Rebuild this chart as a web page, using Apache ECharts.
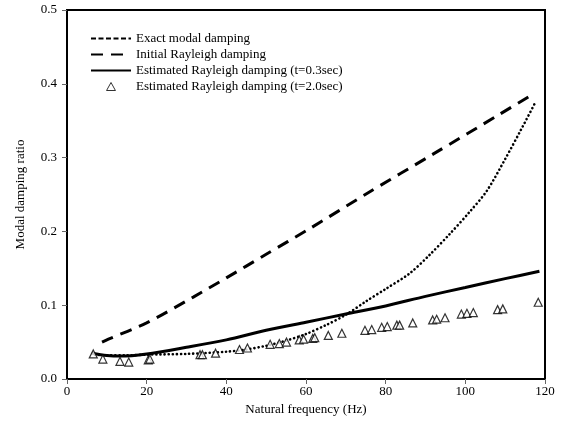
<!DOCTYPE html>
<html>
<head>
	<meta charset="utf-8">
	<title>modal damping</title>
	<script src="https://cdn.jsdelivr.net/npm/echarts@6/dist/echarts.min.js"></script>
	<style>
		html, body { margin: 0; padding: 0; background: #fff; }
		#DIV1 { width: 579px; height: 429px; }
	</style>
</head>
<body>
	<div id="DIV1"></div>
	<script type="text/javascript">

		// values
		const xTicks = [0, 20, 40, 60, 80, 100, 120];
		const yTicks = [0.0, 0.1, 0.2, 0.3, 0.4, 0.5];

		const exactFreq  = [7, 10, 15, 20, 30, 40, 45, 50, 55, 60, 65, 70, 75, 80, 86, 91, 96, 101, 105.4, 110, 114, 117.5];
		const exactRatio = [0.033, 0.032, 0.032, 0.033, 0.034, 0.037, 0.040, 0.045, 0.052, 0.061, 0.073, 0.087, 0.105, 0.122, 0.143, 0.168, 0.196, 0.226, 0.255, 0.298, 0.338, 0.374];

		const initFreq  = [8.8, 10.4, 20, 31.7, 40, 50, 61, 75.2, 92, 108.7, 117];
		const initRatio = [0.050, 0.054, 0.076, 0.111, 0.137, 0.169, 0.204, 0.251, 0.305, 0.359, 0.386];

		const est03Freq  = [6.2, 10, 13.3, 20, 30, 40, 50, 60, 70, 80, 90, 100, 110, 118.6];
		const est03Ratio = [0.035, 0.032, 0.031, 0.034, 0.043, 0.053, 0.066, 0.077, 0.088, 0.099, 0.112, 0.124, 0.136, 0.146];

		const est20Freq  = [6.6, 9.0, 13.3, 15.5, 20.4, 20.8, 33.4, 34.0, 37.3, 43.3, 45.3, 51.0, 53.3, 55.1, 58.3, 59.4, 61.7, 62.2, 65.6, 69.0, 74.8, 76.5, 79.0, 80.4, 82.8, 83.5, 86.8, 91.8, 92.8, 94.9, 99.0, 100.4, 102.0, 108.1, 109.4, 118.3];
		const est20Ratio = [0.034, 0.027, 0.024, 0.023, 0.026, 0.027, 0.033, 0.033, 0.035, 0.040, 0.042, 0.047, 0.048, 0.050, 0.053, 0.054, 0.055, 0.056, 0.059, 0.062, 0.066, 0.067, 0.070, 0.071, 0.073, 0.073, 0.076, 0.080, 0.081, 0.083, 0.088, 0.089, 0.090, 0.094, 0.095, 0.104];

		const names = [
			"Exact modal damping",
			"Initial Rayleigh damping",
			"Estimated Rayleigh damping (t=0.3sec)",
			"Estimated Rayleigh damping (t=2.0sec)"
		];

		const zip = (xs, ys) => xs.map((x, i) => [x, ys[i]]);
		const FONT = "Liberation Serif";
		const TRI = "path://M5,0 L10,9 L0,9 Z";

		const chart = echarts.init(document.getElementById("DIV1"));

		const option = {
			animation: false,
			backgroundColor: "#fff",
			textStyle: { fontFamily: FONT, color: "#000" },
			grid: {
				left: 67, right: 34, top: 10, bottom: 50,
				show: true, borderColor: "#000", borderWidth: 2
			},
			legend: {
				orient: "vertical",
				left: 85, top: 27,
				itemWidth: 40, itemHeight: 8, itemGap: 3, itemTextGap: 3,
				textStyle: { fontFamily: FONT, fontSize: 13, color: "#000" },
				data: [
					{ name: names[0], itemStyle: { opacity: 0 }, lineStyle: { type: [5, 2.5], cap: "butt" } },
					{ name: names[1], itemStyle: { opacity: 0 } },
					{ name: names[2], itemStyle: { opacity: 0 } },
					{ name: names[3], icon: TRI, itemStyle: { borderColor: "#000", borderWidth: 1 } }
				]
			},
			xAxis: {
				type: "value",
				min: xTicks[0], max: xTicks[xTicks.length - 1], interval: 20,
				name: "Natural frequency (Hz)",
				nameLocation: "middle", nameGap: 22,
				nameTextStyle: { fontFamily: FONT, fontSize: 13, color: "#000" },
				axisLine: { lineStyle: { color: "#000", width: 2 } },
				axisTick: { inside: false, length: 5, lineStyle: { color: "#666", width: 1 } },
				axisLabel: { fontFamily: FONT, fontSize: 13, color: "#000", margin: 6 },
				splitLine: { show: false }
			},
			yAxis: {
				type: "value",
				min: yTicks[0], max: yTicks[yTicks.length - 1], interval: 0.1,
				name: "Modal damping ratio",
				nameLocation: "middle", nameGap: 40,
				nameTextStyle: { fontFamily: FONT, fontSize: 13, color: "#000" },
				axisLine: { lineStyle: { color: "#000", width: 2 } },
				axisTick: { inside: false, length: 5, lineStyle: { color: "#666", width: 1 } },
				axisLabel: {
					fontFamily: FONT, fontSize: 13, color: "#000", margin: 10,
					formatter: v => v.toFixed(1)
				},
				splitLine: { show: false }
			},
			series: [
				{
					name: names[0], type: "line", smooth: 0.3, symbol: "none",
					lineStyle: { color: "#000", width: 2.6, type: [0.1, 4], cap: "round" },
					itemStyle: { color: "#000" },
					data: zip(exactFreq, exactRatio)
				},
				{
					name: names[1], type: "line", smooth: 0.3, symbol: "none",
					lineStyle: { color: "#000", width: 3, type: [12, 8] },
					itemStyle: { color: "#000" },
					data: zip(initFreq, initRatio)
				},
				{
					name: names[2], type: "line", smooth: 0.3, symbol: "none",
					lineStyle: { color: "#000", width: 3 },
					itemStyle: { color: "#000" },
					data: zip(est03Freq, est03Ratio)
				},
				{
					name: names[3], type: "scatter",
					symbol: "triangle", symbolSize: 8, symbolKeepAspect: true,
					itemStyle: { color: "#fff", borderColor: "#000", borderWidth: 1.2 },
					data: zip(est20Freq, est20Ratio),
					z: 5
				}
			]
		};

		chart.setOption(option);
	</script>
</body>
</html>
